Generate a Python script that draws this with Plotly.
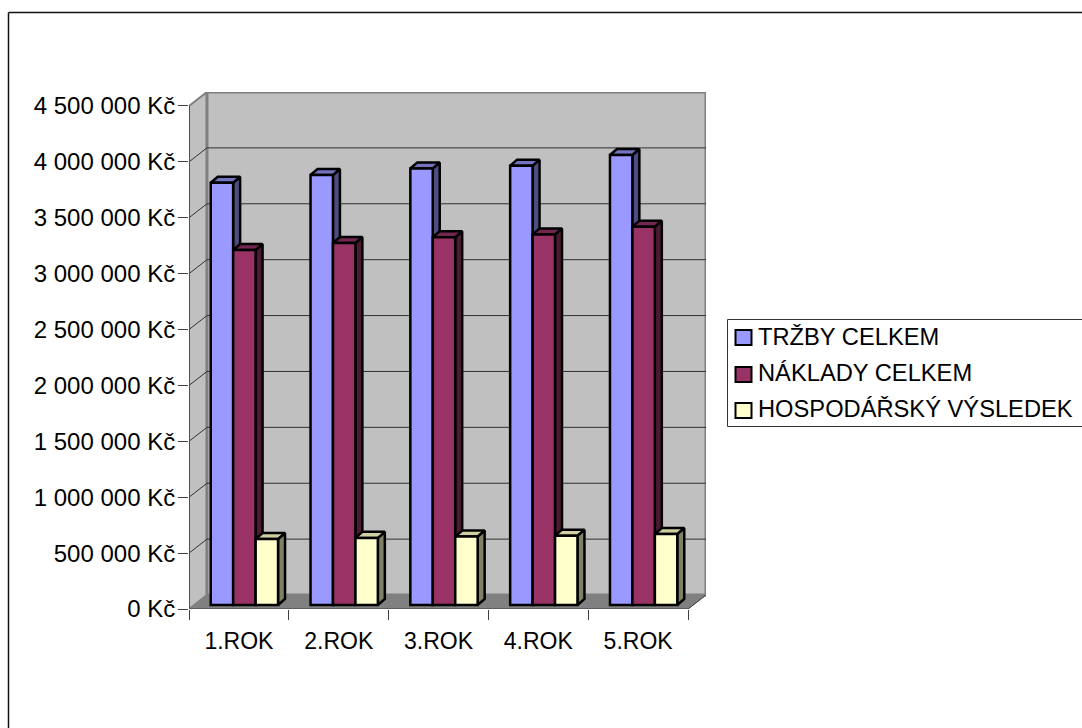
import plotly.graph_objects as go

# Data
categories = ["1.ROK", "2.ROK", "3.ROK", "4.ROK", "5.ROK"]
trzby = [3777000, 3846000, 3905000, 3930000, 4025000]
naklady = [3175000, 3238000, 3290000, 3315000, 3384000]
vysledek = [590000, 600000, 612000, 620000, 635000]
series_names = ["TRŽBY CELKEM", "NÁKLADY CELKEM", "HOSPODÁŘSKÝ VÝSLEDEK"]
tick_values = [0, 500000, 1000000, 1500000, 2000000, 2500000, 3000000, 3500000, 4000000, 4500000]
tick_labels = ["0 Kč", "500 000 Kč", "1 000 000 Kč", "1 500 000 Kč", "2 000 000 Kč",
               "2 500 000 Kč", "3 000 000 Kč", "3 500 000 Kč", "4 000 000 Kč", "4 500 000 Kč"]

# Colours: front, side and top face of each series
FRONT = ["#9999FF", "#993366", "#FFFFCC"]
SIDE = ["#4D4D80", "#4D1A33", "#808066"]
TOP = ["#7373BF", "#732650", "#CFCFA3"]

# Pseudo-3D geometry in axis units
WALL_DX, WALL_DY = 0.18, 125000
BAR_DX, BAR_DY = 0.07, 54000
BAR_W = 0.2244
BAR_BASE = 36000
OFFSETS = [0.33, 0.555, 0.78]
BAR_LINE = 2.5
FONT = "Liberation Sans"
FONT_SIZE = 24
LEGEND_FONT_SIZE = 23.7
CATEGORY_FONT_SIZE = 23

W, H = 1082, 728
L, R, T, B = 189, 706, 92, 609
X_MAX = len(categories) + WALL_DX
Y_MAX = tick_values[-1] + WALL_DY


def px(x):
    return (x - L) / (R - L)


def py(y):
    return (B - y) / (B - T)


fig = go.Figure()

for s, values in enumerate([trzby, naklady, vysledek]):
    xs = [i + OFFSETS[s] for i in range(len(values))]
    for x, v in zip(xs, values):
        left, right = x - BAR_W / 2, x + BAR_W / 2
        top = BAR_BASE + v
        fig.add_trace(go.Scatter(
            x=[right, right + BAR_DX, right + BAR_DX, right, right],
            y=[BAR_BASE, BAR_BASE + BAR_DY, top + BAR_DY, top, BAR_BASE],
            mode="lines", fill="toself", fillcolor=SIDE[s],
            line=dict(color="black", width=BAR_LINE), hoverinfo="skip",
            showlegend=False, zorder=2 * s + 1,
        ))
        fig.add_trace(go.Scatter(
            x=[left, left + BAR_DX, right + BAR_DX, right, left],
            y=[top, top + BAR_DY, top + BAR_DY, top, top],
            mode="lines", fill="toself", fillcolor=TOP[s],
            line=dict(color="black", width=BAR_LINE), hoverinfo="skip",
            showlegend=False, zorder=2 * s + 1,
        ))
    fig.add_trace(go.Bar(
        x=xs, y=values, base=BAR_BASE, width=BAR_W, name=series_names[s],
        marker=dict(color=FRONT[s], line=dict(color="black", width=BAR_LINE)),
        showlegend=False, zorder=2 * s + 2,
    ))

shapes = []

# Side wall, back wall and floor
shapes.append(dict(type="path", layer="below", xref="x", yref="y",
                   path=f"M 0 0 L {WALL_DX} {WALL_DY} L {WALL_DX} {Y_MAX} L 0 {tick_values[-1]} Z",
                   fillcolor="#C0C0C0", line=dict(color="#808080", width=2)))
shapes.append(dict(type="rect", layer="below", xref="x", yref="y",
                   x0=WALL_DX, x1=X_MAX, y0=WALL_DY, y1=Y_MAX,
                   fillcolor="#C0C0C0", line=dict(color="#808080", width=3)))
shapes.append(dict(type="path", layer="below", xref="x", yref="y",
                   path=f"M 0 0 L {len(categories)} 0 L {X_MAX} {WALL_DY} L {WALL_DX} {WALL_DY} Z",
                   fillcolor="#808080", line=dict(color="#808080", width=1)))
shapes.append(dict(type="line", layer="below", xref="x", yref="y",
                   x0=len(categories), y0=0, x1=X_MAX, y1=WALL_DY,
                   line=dict(color="#404040", width=1)))

# Gridlines across both walls
for v in tick_values[1:-1]:
    shapes.append(dict(type="line", layer="below", xref="x", yref="y",
                       x0=0, y0=v, x1=WALL_DX, y1=v + WALL_DY,
                       line=dict(color="#303030", width=1)))
    shapes.append(dict(type="line", layer="below", xref="x", yref="y",
                       x0=WALL_DX, y0=v + WALL_DY, x1=X_MAX, y1=v + WALL_DY,
                       line=dict(color="#303030", width=1)))

# Outer chart frame, open towards the right and bottom edges
shapes.append(dict(type="line", xref="paper", yref="paper",
                   x0=px(8.5), x1=px(W), y0=py(12.5), y1=py(12.5),
                   line=dict(color="#111111", width=1.5)))
shapes.append(dict(type="line", xref="paper", yref="paper",
                   x0=px(8.5), x1=px(8.5), y0=py(12.5), y1=py(H),
                   line=dict(color="#111111", width=1.5)))

# Legend box and swatches
shapes.append(dict(type="rect", xref="paper", yref="paper",
                   x0=px(727.5), x1=px(W + 5), y0=py(319.5), y1=py(426.5),
                   fillcolor="white", line=dict(color="#333333", width=1)))
swatch_centres = [337.5, 374.5, 410.5]
text_centres = [337, 373, 408.5]
annotations = []
for s, yc in enumerate(swatch_centres):
    shapes.append(dict(type="rect", xref="paper", yref="paper",
                       x0=px(735.5), x1=px(751.5), y0=py(yc - 7.5), y1=py(yc + 7.5),
                       fillcolor=FRONT[s], line=dict(color="black", width=2)))
    annotations.append(dict(xref="paper", yref="paper", x=px(755.5), y=py(text_centres[s]),
                            xanchor="left", yanchor="middle", showarrow=False,
                            text=series_names[s],
                            font=dict(family=FONT, size=LEGEND_FONT_SIZE, color="black")))

fig.update_layout(
    width=W, height=H,
    margin=dict(l=L, r=W - R, t=T, b=H - B, pad=0),
    paper_bgcolor="white", plot_bgcolor="white",
    barmode="overlay",
    showlegend=False,
    shapes=shapes, annotations=annotations,
    font=dict(family=FONT, size=FONT_SIZE, color="black"),
    xaxis=dict(
        range=[0, X_MAX], tickmode="array",
        tickvals=[i + 0.5 for i in range(len(categories))], ticktext=categories,
        tickfont=dict(size=CATEGORY_FONT_SIZE),
        ticks="", ticklabelstandoff=16,
        minor=dict(ticks="outside", dtick=1, tick0=0, ticklen=10, tickwidth=1,
                   tickcolor="#404040", showgrid=False),
        showgrid=False, zeroline=False,
        showline=False, fixedrange=True,
    ),
    yaxis=dict(
        range=[0, Y_MAX], tickmode="array",
        tickvals=tick_values, ticktext=tick_labels,
        ticks="outside", ticklen=10, tickwidth=1, tickcolor="#404040",
        ticklabelstandoff=-2,
        showgrid=False, zeroline=False, fixedrange=True,
    ),
)

# Front axis lines drawn along the wall and floor edges
fig.add_shape(type="line", xref="x", yref="y", x0=0, y0=0, x1=len(categories), y1=0,
              line=dict(color="#505050", width=1.5), layer="above")
fig.add_shape(type="line", xref="x", yref="y", x0=0, y0=0, x1=0, y1=tick_values[-1],
              line=dict(color="#505050", width=2), layer="above")

fig.write_html("out.html")
